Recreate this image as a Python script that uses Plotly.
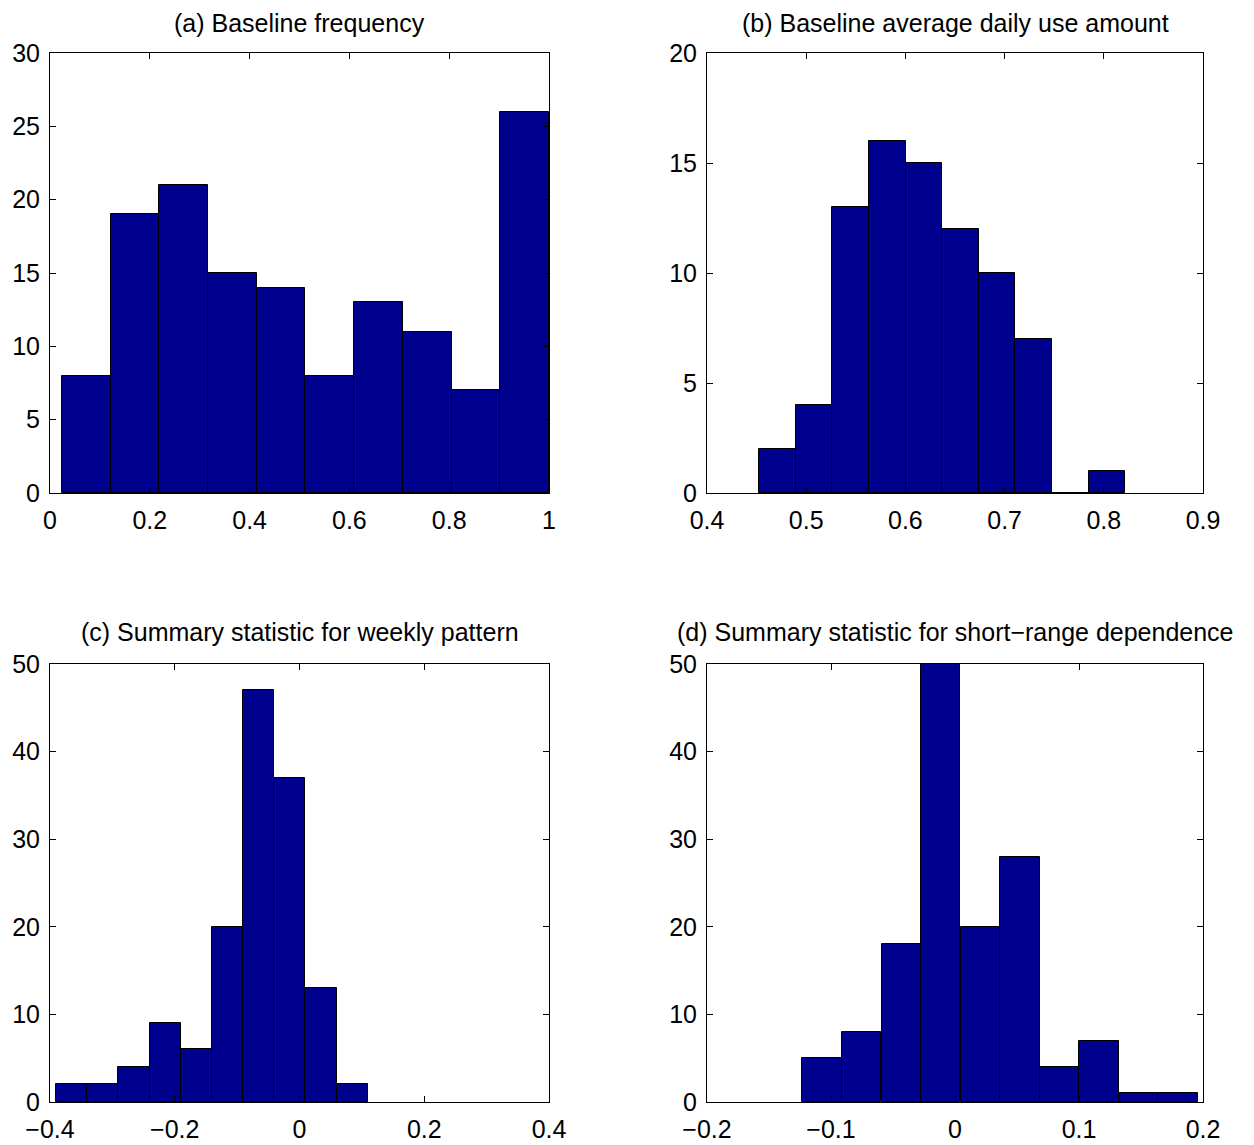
import plotly.graph_objects as go
from plotly.subplots import make_subplots

# Panel (a) Baseline frequency
a_centers = [0.0726, 0.1702, 0.2678, 0.3654, 0.4630, 0.5606, 0.6582, 0.7558, 0.8534, 0.9510]
a_counts = [8, 19, 21, 15, 14, 8, 13, 11, 7, 26]
# Panel (b) Baseline average daily use amount
b_centers = [0.4711, 0.5080, 0.5449, 0.5818, 0.6187, 0.6556, 0.6925, 0.7294, 0.7663, 0.8032]
b_counts = [2, 4, 13, 16, 15, 12, 10, 7, 0, 1]
# Panel (c) Summary statistic for weekly pattern
c_centers = [-0.3652, -0.3152, -0.2653, -0.2153, -0.1654, -0.1154, -0.0654, -0.0155, 0.0345, 0.0844]
c_counts = [2, 2, 4, 9, 6, 20, 47, 37, 13, 2]
# Panel (d) Summary statistic for short-range dependence
d_centers = [-0.1071, -0.0752, -0.0433, -0.0115, 0.0204, 0.0523, 0.0842, 0.1160, 0.1479, 0.1798]
d_counts = [5, 8, 18, 50, 20, 28, 4, 7, 1, 1]

titles = ["(a) Baseline frequency",
          "(b) Baseline average daily use amount",
          "(c) Summary statistic for weekly pattern",
          "(d) Summary statistic for short\u2212range dependence"]

panels = [
    (a_centers, a_counts, [0, 1], 0.2, [0, 30], 5),
    (b_centers, b_counts, [0.4, 0.9], 0.1, [0, 20], 5),
    (c_centers, c_counts, [-0.4, 0.4], 0.2, [0, 50], 10),
    (d_centers, d_counts, [-0.2, 0.2], 0.1, [0, 50], 10),
]

OFF = 8  # page body margin
W, H = 1246, 1137


def px_x(p):
    return (p - OFF) / W


def px_y(p):
    return 1 - (p - OFF) / H


xdoms = [[px_x(50), px_x(549)], [px_x(707), px_x(1203)]]
ydoms = [[px_y(493), px_y(53)], [px_y(1102), px_y(664)]]

FONT = "Liberation Sans, Arial, Helvetica, sans-serif"

fig = make_subplots(rows=2, cols=2)
layout_upd = {}
annotations = []
for i, (cx, cy, xr, dx, yr, dy) in enumerate(panels):
    r, c = i // 2, i % 2
    fig.add_trace(go.Bar(x=cx, y=cy, marker=dict(color="#00008F", line=dict(color="black", width=1)),
                         showlegend=False, hoverinfo="x+y"), row=r + 1, col=c + 1)
    sfx = "" if i == 0 else str(i + 1)
    layout_upd["xaxis" + sfx] = dict(domain=xdoms[c], range=xr, dtick=dx, tick0=xr[0],
                                     ticks="inside", ticklen=6, tickcolor="black", tickwidth=1,
                                     showline=True, linecolor="black", linewidth=1, mirror="ticks",
                                     showgrid=False, zeroline=False, ticklabelstandoff=5,
                                     automargin=False,
                                     tickfont=dict(family=FONT, size=25, color="black"))
    layout_upd["yaxis" + sfx] = dict(domain=ydoms[r], range=yr, dtick=dy, tick0=0,
                                     ticks="inside", ticklen=6, tickcolor="black", tickwidth=1,
                                     showline=True, linecolor="black", linewidth=1, mirror="ticks",
                                     showgrid=False, zeroline=False, ticklabelstandoff=4,
                                     automargin=False,
                                     tickfont=dict(family=FONT, size=25, color="black"))
    annotations.append(dict(text=titles[i], xref="paper", yref="paper",
                            x=(xdoms[c][0] + xdoms[c][1]) / 2,
                            y=px_y(23) if r == 0 else px_y(632),
                            xanchor="center", yanchor="middle", showarrow=False,
                            font=dict(family=FONT, size=25, color="black")))

fig.update_layout(**layout_upd)
fig.update_layout(width=W, height=H, margin=dict(l=0, r=0, t=0, b=0, autoexpand=False),
                  paper_bgcolor="white", plot_bgcolor="white", bargap=0,
                  annotations=annotations, font=dict(family=FONT, color="black"))
fig.write_html("out.html")
